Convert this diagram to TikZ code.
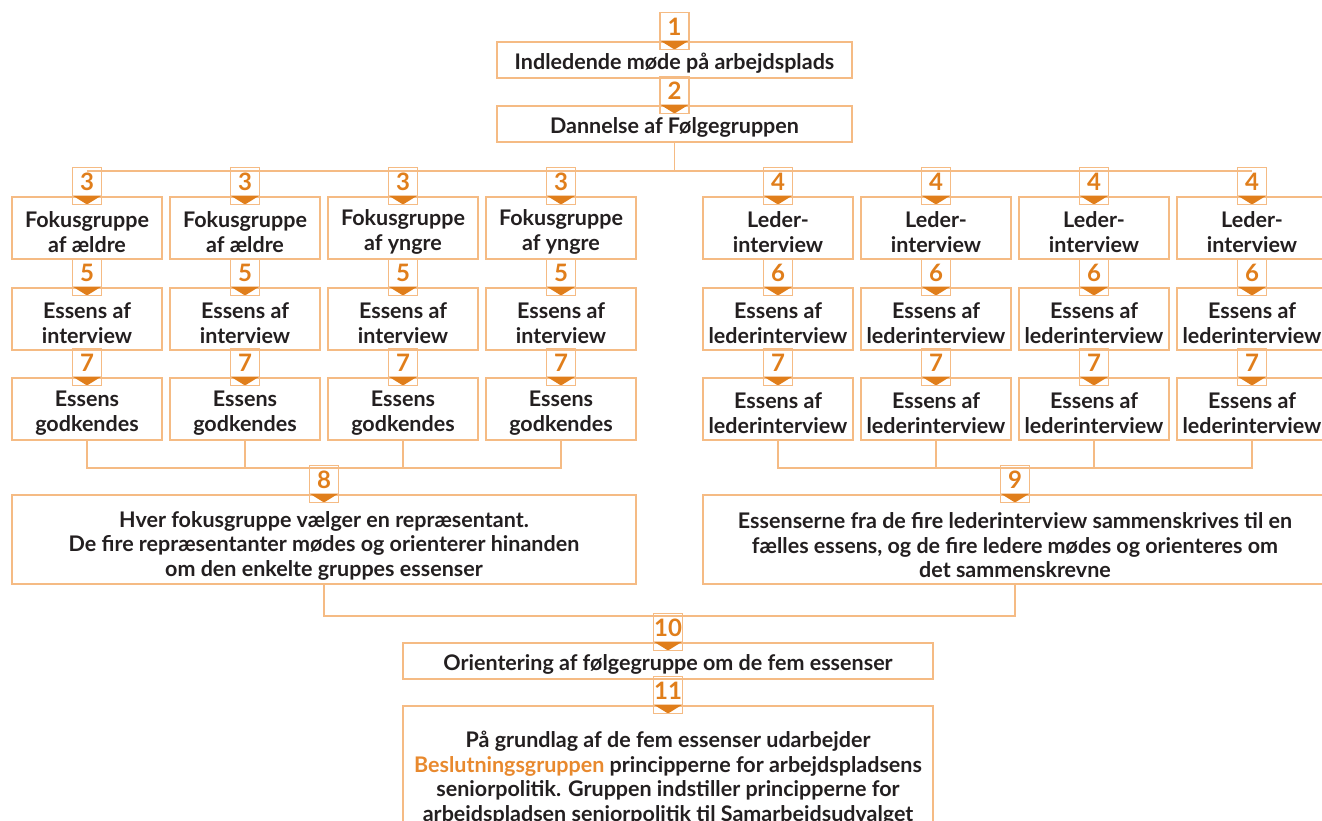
\documentclass[tikz,border=0pt]{standalone}
\usepackage{fontspec}
\setmainfont{Lato}
\usepackage{tikz}

\definecolor{lightorange}{HTML}{F5BB84}
\definecolor{darkorange}{HTML}{E07E1B}
\definecolor{midorange}{HTML}{E8892E}
\definecolor{darktext}{HTML}{231F20}

\newcommand{\boxlift}[1][24pt]{\rule{0pt}{#1}}

\begin{document}
\begin{tikzpicture}[x = 1pt, y = -1pt]
\tikzstyle{BoxStyle}=[shape = rectangle,
                      draw = lightorange,
                      line width = 1.5pt,
                      inner sep = 0pt,
                      align = center,
                      text = darktext,
                      font = \fontsize{21.5}{24.5}\selectfont\bfseries,
                      minimum width = 150pt,
                      minimum height = 62pt]
\tikzstyle{WideStyle}=[BoxStyle, minimum height = 36pt]
\tikzstyle{NumStyle}=[shape = rectangle,
                      draw = lightorange,
                      line width = 1.5pt,
                      inner sep = 0pt,
                      minimum width = 29pt,
                      minimum height = 37pt,
                      text height = 16.5pt,
                      text depth = 8.5pt,
                      anchor = south,
                      text = darkorange,
                      font = \fontsize{24}{24}\selectfont\bfseries,
                      path picture = {\fill[darkorange] (path picture bounding box.south)
                        -- ([yshift = 9pt]path picture bounding box.south west)
                        -- ([yshift = 9pt]path picture bounding box.south east) -- cycle;}]
\tikzstyle{LineStyle}=[draw = lightorange, line width = 1.5pt]

\useasboundingbox (0,0) rectangle (1322,820);
\clip (0,0) rectangle (1322,820);

% top
\node[WideStyle, minimum width = 355pt] (b1) at (674.5,60) {\boxlift[23pt]Indledende møde på arbejdsplads};
\node[WideStyle, minimum width = 355pt] (b2) at (674.5,124) {\boxlift[23pt]Dannelse af Følgegruppen};

% focus groups
\node[BoxStyle] (f1) at (87,228) {\boxlift Fokusgruppe\\af ældre};
\node[BoxStyle] (f2) at (245,228) {\boxlift Fokusgruppe\\af ældre};
\node[BoxStyle] (f3) at (403,228) {\boxlift Fokusgruppe\\af yngre};
\node[BoxStyle] (f4) at (561,228) {\boxlift Fokusgruppe\\af yngre};
\node[BoxStyle] (e1) at (87,319) {\boxlift Essens af\\interview};
\node[BoxStyle] (e2) at (245,319) {\boxlift Essens af\\interview};
\node[BoxStyle] (e3) at (403,319) {\boxlift Essens af\\interview};
\node[BoxStyle] (e4) at (561,319) {\boxlift Essens af\\interview};
\node[BoxStyle] (g1) at (87,409) {\boxlift Essens\\godkendes};
\node[BoxStyle] (g2) at (245,409) {\boxlift Essens\\godkendes};
\node[BoxStyle] (g3) at (403,409) {\boxlift Essens\\godkendes};
\node[BoxStyle] (g4) at (561,409) {\boxlift Essens\\godkendes};

% leader interviews
\node[BoxStyle] (l1) at (778,228) {\boxlift Leder-\\interview};
\node[BoxStyle] (l2) at (936,228) {\boxlift Leder-\\interview};
\node[BoxStyle] (l3) at (1094,228) {\boxlift Leder-\\interview};
\node[BoxStyle] (l4) at (1252,228) {\boxlift Leder-\\interview};
\node[BoxStyle] (e5) at (778,319) {\boxlift Essens af\\lederinterview};
\node[BoxStyle] (e6) at (936,319) {\boxlift Essens af\\lederinterview};
\node[BoxStyle] (e7) at (1094,319) {\boxlift Essens af\\lederinterview};
\node[BoxStyle] (e8) at (1252,319) {\boxlift Essens af\\lederinterview};
\node[BoxStyle] (g5) at (778,409) {\boxlift Essens af\\lederinterview};
\node[BoxStyle] (g6) at (936,409) {\boxlift Essens af\\lederinterview};
\node[BoxStyle] (g7) at (1094,409) {\boxlift Essens af\\lederinterview};
\node[BoxStyle] (g8) at (1252,409) {\boxlift Essens af\\lederinterview};

% merging
\node[BoxStyle, minimum width = 624pt, minimum height = 89pt] (m8) at (324,539.5)
  {\boxlift[28pt]Hver fokusgruppe vælger en repræsentant.\\De fire repræsentanter mødes og orienterer hinanden\\om den enkelte gruppes essenser};
\node[BoxStyle, minimum width = 624pt, minimum height = 89pt] (m9) at (1015,539.5)
  {\boxlift[28pt]Essenserne fra de fire lederinterview sammenskrives til en\\fælles essens, og de fire ledere mødes og orienteres om\\det sammenskrevne};
\node[WideStyle, minimum width = 530pt] (m10) at (668,661) {\boxlift[22pt]Orientering af følgegruppe om de fem essenser};
\node[BoxStyle, minimum width = 530pt, minimum height = 140pt] (m11) at (668,776)
  {\boxlift[21pt]På grundlag af de fem essenser udarbejder\\\textcolor{midorange}{Beslutningsgruppen} principperne for arbejdspladsens\\seniorpolitik. Gruppen indstiller principperne for\\arbejdspladsen seniorpolitik til Samarbejdsudvalget};

% connectors
\draw[LineStyle] (b2.south) -- ++(0,28) coordinate (top);
\draw[LineStyle] (f1.north |- top) -- (l4.north |- top);
\draw[LineStyle] (g1.south) -- ++(0,27) coordinate (low) -- (g4.south |- low) -- (g4.south);
\draw[LineStyle] (g2.south) -- (g2.south |- low);
\draw[LineStyle] (g3.south) -- (g3.south |- low);
\draw[LineStyle] (g5.south) -- (g5.south |- low) -- (g8.south |- low) -- (g8.south);
\draw[LineStyle] (g6.south) -- (g6.south |- low);
\draw[LineStyle] (g7.south) -- (g7.south |- low);
\draw[LineStyle] (m8.south) -- ++(0,31) coordinate (mid) -| (m9.south);

% step numbers
\node[NumStyle] (n1) at ([yshift = -9pt]b1.north) {1};
\node[NumStyle] (n2) at ([yshift = -9pt]b2.north) {2};
\node[NumStyle] (n3a) at ([yshift = -9pt]f1.north) {3};
\node[NumStyle] (n3b) at ([yshift = -9pt]f2.north) {3};
\node[NumStyle] (n3c) at ([yshift = -9pt]f3.north) {3};
\node[NumStyle] (n3d) at ([yshift = -9pt]f4.north) {3};
\node[NumStyle] (n4a) at ([yshift = -9pt]l1.north) {4};
\node[NumStyle] (n4b) at ([yshift = -9pt]l2.north) {4};
\node[NumStyle] (n4c) at ([yshift = -9pt]l3.north) {4};
\node[NumStyle] (n4d) at ([yshift = -9pt]l4.north) {4};
\node[NumStyle] (n5a) at ([yshift = -9pt]e1.north) {5};
\node[NumStyle] (n5b) at ([yshift = -9pt]e2.north) {5};
\node[NumStyle] (n5c) at ([yshift = -9pt]e3.north) {5};
\node[NumStyle] (n5d) at ([yshift = -9pt]e4.north) {5};
\node[NumStyle] (n6a) at ([yshift = -9pt]e5.north) {6};
\node[NumStyle] (n6b) at ([yshift = -9pt]e6.north) {6};
\node[NumStyle] (n6c) at ([yshift = -9pt]e7.north) {6};
\node[NumStyle] (n6d) at ([yshift = -9pt]e8.north) {6};
\node[NumStyle] (n7a) at ([yshift = -9pt]g1.north) {7};
\node[NumStyle] (n7b) at ([yshift = -9pt]g2.north) {7};
\node[NumStyle] (n7c) at ([yshift = -9pt]g3.north) {7};
\node[NumStyle] (n7d) at ([yshift = -9pt]g4.north) {7};
\node[NumStyle] (n7e) at ([yshift = -9pt]g5.north) {7};
\node[NumStyle] (n7f) at ([yshift = -9pt]g6.north) {7};
\node[NumStyle] (n7g) at ([yshift = -9pt]g7.north) {7};
\node[NumStyle] (n7h) at ([yshift = -9pt]g8.north) {7};
\node[NumStyle] (n8) at ([yshift = -9pt]m8.north) {8};
\node[NumStyle] (n9) at ([yshift = -9pt]m9.north) {9};
\node[NumStyle] (n10) at ([yshift = -9pt]m10.north) {10};
\node[NumStyle] (n11) at ([yshift = -9pt]m11.north) {11};
\end{tikzpicture}
\end{document}
